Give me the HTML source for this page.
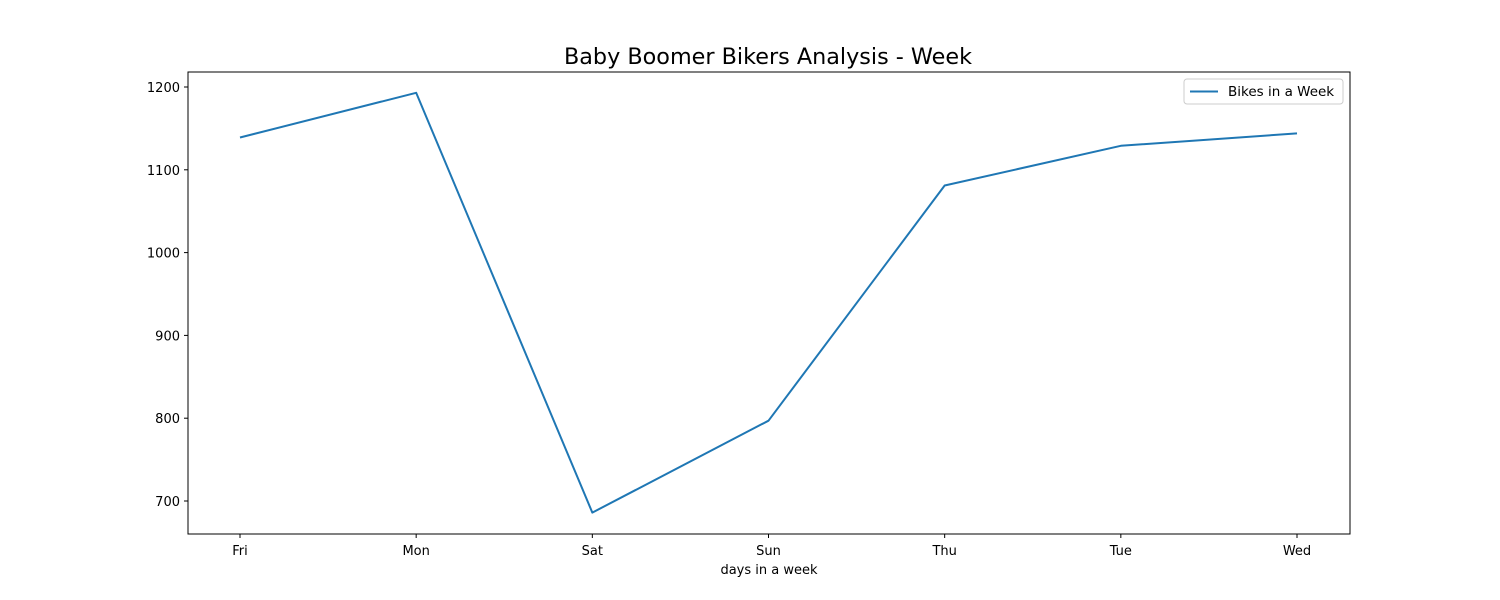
<!DOCTYPE html>
<html><head><meta charset="utf-8"><style>
body{margin:0;background:#fff;}
svg{display:block;font-family:"DejaVu Sans","Liberation Sans",sans-serif;}
</style></head><body>
<svg id="chart" width="1500" height="600"></svg>
<script>
const categories=["Fri","Mon","Sat","Sun","Thu","Tue","Wed"];
const bikes=[1139,1193,686,797,1081,1129,1144];
const yTicks=[700,800,900,1000,1100,1200];
const NS="http://www.w3.org/2000/svg";
const svg=document.getElementById('chart');
const L=188,R=1350,T=72,B=534;
const x0=240,x1=1297;
function xs(i){return x0+(x1-x0)*i/(categories.length-1);}
function ys(v){return 501+(700-v)*0.828;}
function mk(tag,attrs,parent){const e=document.createElementNS(NS,tag);for(const k in attrs)e.setAttribute(k,attrs[k]);(parent||svg).appendChild(e);return e;}
let t=mk('text',{x:768,y:64,'text-anchor':'middle','font-size':'22.3'});t.textContent="Baby Boomer Bikers Analysis - Week";


let frame=mk('rect',{x:L,y:T,width:R-L,height:B-T,fill:'none',stroke:'#000','stroke-width':1});


categories.forEach((c,i)=>{
 const x=xs(i);
 const tk=mk('line',{x1:x,x2:x,y1:B,y2:B+4,stroke:'#000'});
 
 
 const lb=mk('text',{x:x,y:B+21,'text-anchor':'middle','font-size':'13'});lb.textContent=c;
 
 
});
yTicks.forEach(v=>{
 const y=ys(v);
 const tk=mk('line',{x1:L-4,x2:L,y1:y,y2:y,stroke:'#000'});
 
 
 const lb=mk('text',{x:L-8,y:y+5,'text-anchor':'end','font-size':'13'});lb.textContent=v;
 
 
});
let xl=mk('text',{x:769,y:574,'text-anchor':'middle','font-size':'13'});xl.textContent="days in a week";


let pl=mk('polyline',{points:bikes.map((v,i)=>xs(i)+','+ys(v)).join(' '),fill:'none',stroke:'#1f77b4','stroke-width':2,'stroke-linejoin':'round'});


let lg=mk('g',{});


mk('rect',{x:1184,y:79,width:159,height:25,rx:3,fill:'#fff',stroke:'#ccc'},lg);
mk('line',{x1:1190,x2:1218,y1:91.5,y2:91.5,stroke:'#1f77b4','stroke-width':2},lg);
let lt=mk('text',{x:1228,y:96,'font-size':'13.5'},lg);lt.textContent="Bikes in a Week";


</script>
</body></html>
